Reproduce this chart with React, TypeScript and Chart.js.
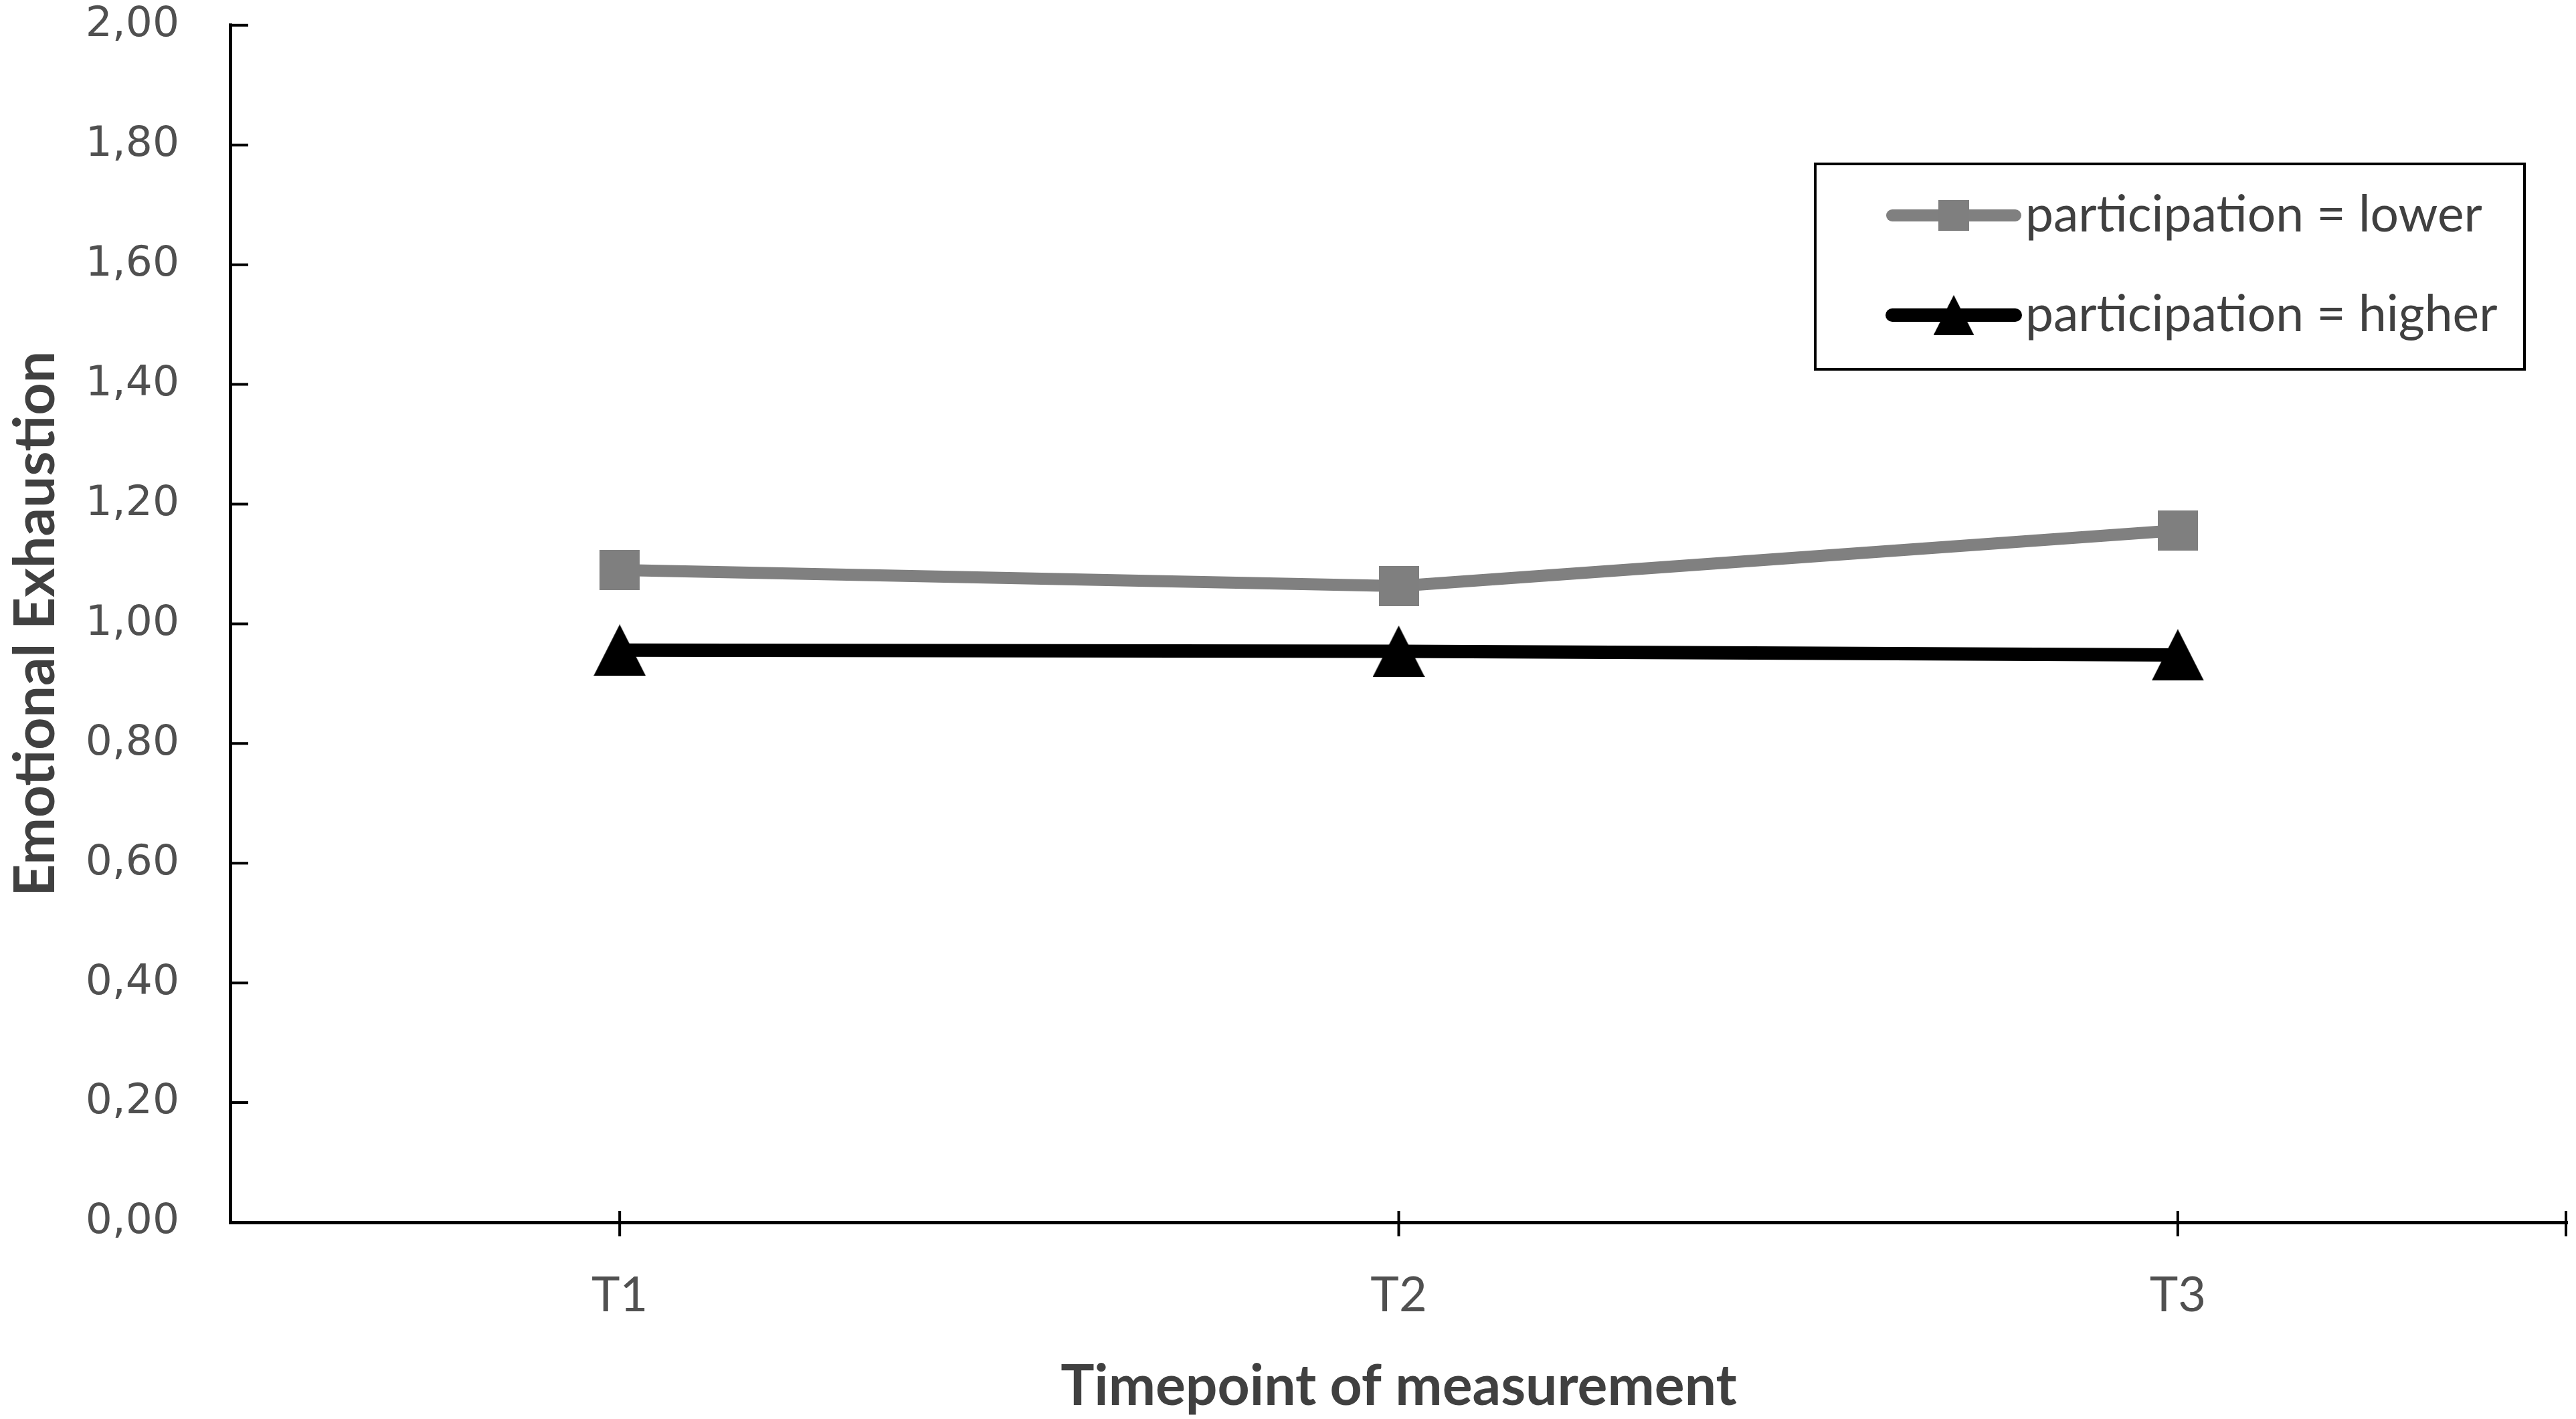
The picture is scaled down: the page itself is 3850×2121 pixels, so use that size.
import { useEffect, useRef } from 'react';
import { Chart, registerables } from 'chart.js';

Chart.register(...registerables);

const timepoints = ['T1', 'T2', 'T3'];
const lowerParticipation = [1.09, 1.063, 1.156];
const higherParticipation = [0.956, 0.954, 0.948];
const seriesLabels = ['participation = lower', 'participation = higher'];
const yMin = 0;
const yMax = 2;
const yStep = 0.2;

const lineColors = ['#808080', '#000000'];
const lineWidths = [18, 20];

function makeSquare(size: number, color: string) {
	const c = document.createElement('canvas');
	c.width = size;
	c.height = size;
	const ctx = c.getContext('2d') as CanvasRenderingContext2D;
	ctx.fillStyle = color;
	ctx.fillRect(0, 0, size, size);
	return c;
}

function makeTriangle(w: number, h: number, color: string) {
	const c = document.createElement('canvas');
	c.width = w;
	c.height = h;
	const ctx = c.getContext('2d') as CanvasRenderingContext2D;
	ctx.fillStyle = color;
	ctx.beginPath();
	ctx.moveTo(w / 2, 0);
	ctx.lineTo(w, h);
	ctx.lineTo(0, h);
	ctx.closePath();
	ctx.fill();
	return c;
}

const fmt = (v: number | string) => Number(v).toFixed(2).replace('.', ',');

export default function App() {
	const canvasRef = useRef<HTMLCanvasElement>(null);

	useEffect(() => {
		const markers = [makeSquare(60, '#7f7f7f'), makeTriangle(78, 77, '#000000')];

		// tick marks: inside on y, crossing on x (plus one at the right end)
		const axisTicks = {
			id: 'axisTicks',
			beforeDatasetsDraw(chart: any) {
				const { ctx, chartArea, scales } = chart;
				ctx.save();
				ctx.strokeStyle = '#000';
				ctx.lineWidth = 4;
				ctx.beginPath();
				scales.y.ticks.forEach((t: any) => {
					const py = scales.y.getPixelForValue(t.value);
					ctx.moveTo(chartArea.left, py);
					ctx.lineTo(chartArea.left + 27, py);
				});
				const xs = timepoints.map((_, i) => scales.x.getPixelForValue(i));
				xs.push(chartArea.right - 2);
				xs.forEach((px) => {
					ctx.moveTo(px, chartArea.bottom - 17);
					ctx.lineTo(px, chartArea.bottom + 21);
				});
				ctx.stroke();
				ctx.restore();
			}
		};

		const boxLegend = {
			id: 'boxLegend',
			afterDraw(chart: any) {
				const { ctx } = chart;
				ctx.save();
				ctx.lineWidth = 4;
				ctx.strokeStyle = '#000';
				ctx.strokeRect(2713, 245, 1060, 307);
				const rows = [322, 471];
				chart.data.datasets.forEach((ds: any, i: number) => {
					const yy = rows[i];
					ctx.beginPath();
					ctx.lineCap = 'round';
					ctx.lineWidth = lineWidths[i];
					ctx.strokeStyle = lineColors[i];
					ctx.moveTo(2828, yy);
					ctx.lineTo(3012, yy);
					ctx.stroke();
					const m = markers[i];
					const w = m.width * 0.78;
					const h = m.height * 0.78;
					ctx.drawImage(m, 2920 - w / 2, yy - h / 2, w, h);
					ctx.fillStyle = '#404040';
					ctx.font = '75px Lato';
					ctx.textBaseline = 'middle';
					ctx.textAlign = 'left';
					ctx.fillText(ds.label, 3027, yy);
				});
				ctx.restore();
			}
		};

		const chart = new Chart(canvasRef.current?.getContext('2d') as CanvasRenderingContext2D, {
			type: 'line',
			data: {
				labels: timepoints,
				datasets: [
					{
						label: seriesLabels[0],
						data: lowerParticipation,
						borderColor: lineColors[0],
						borderWidth: lineWidths[0],
						pointStyle: markers[0],
						pointRadius: 30,
						borderJoinStyle: 'round'
					},
					{
						label: seriesLabels[1],
						data: higherParticipation,
						borderColor: lineColors[1],
						borderWidth: lineWidths[1],
						pointStyle: markers[1],
						pointRadius: 39,
						borderJoinStyle: 'round'
					}
				]
			},
			options: {
				responsive: false,
				devicePixelRatio: 1,
				animation: false,
				layout: { autoPadding: false, padding: { top: 37, right: 13, left: 0, bottom: 0 } },
				plugins: {
					legend: { display: false },
					tooltip: { enabled: false },
					title: { display: false }
				},
				scales: {
					x: {
						type: 'category',
						offset: true,
						grid: { display: false, drawTicks: false },
						border: { display: true, color: '#000', width: 5 },
						ticks: {
							font: { family: 'Lato', size: 72 },
							color: '#505050',
							padding: 67
						},
						title: {
							display: true,
							text: 'Timepoint of measurement',
							font: { family: 'Lato', size: 84, weight: 'bold' },
							color: '#404040',
							padding: { top: 0, bottom: -2 }
						},
						afterFit(s: any) {
							s.height = 294;
						}
					},
					y: {
						min: yMin,
						max: yMax,
						grid: { display: false, drawTicks: true, tickLength: 76 },
						border: { display: true, color: '#000', width: 5 },
						ticks: {
							stepSize: yStep,
							font: { family: 'DejaVu Sans', size: 63 },
							color: '#505050',
							padding: 0,
							callback: (v: any) => fmt(v)
						},
						title: {
							display: true,
							text: 'Emotional Exhaustion',
							font: { family: 'Lato', size: 84, weight: 'bold' },
							color: '#404040',
							padding: { top: 4, bottom: 0 }
						},
						afterFit(s: any) {
							s.width = 344;
						}
					}
				}
			},
			plugins: [axisTicks, boxLegend]
		});
		return () => {
			chart.destroy();
		};
	}, []);

	return (
		<div style={{ position: 'fixed', left: 0, top: 0, width: '3850px', height: '2121px', background: '#fff' }}>
			<canvas ref={canvasRef} width={3850} height={2121} style={{ display: 'block' }}></canvas>
		</div>
	);
}
